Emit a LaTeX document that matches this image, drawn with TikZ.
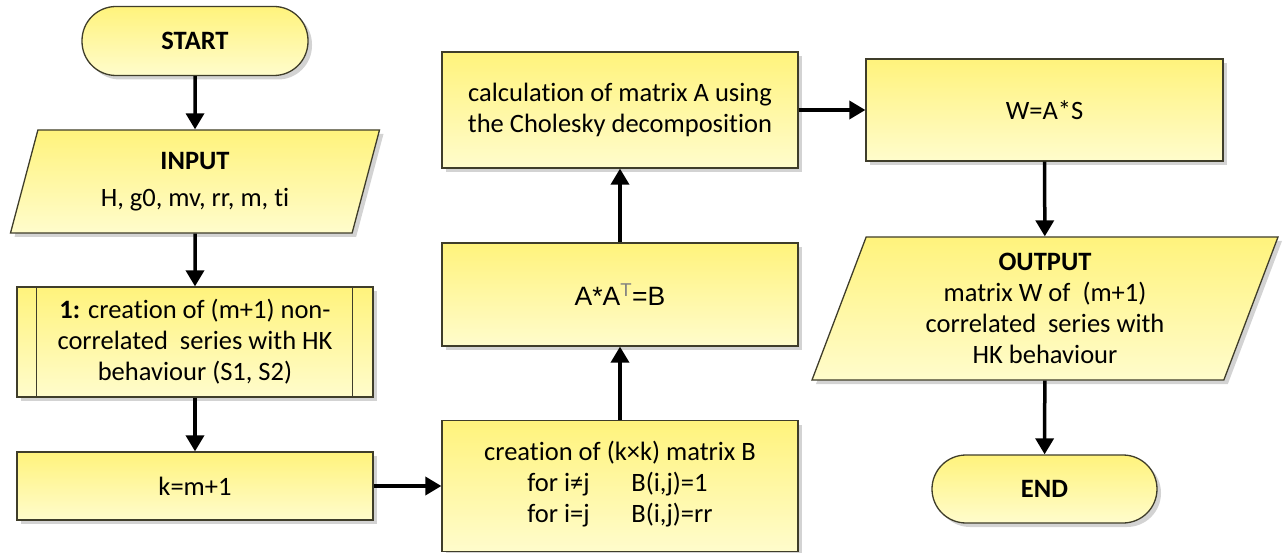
\documentclass[tikz,border=0pt]{standalone}
\usepackage{fontspec}
\setmainfont{Carlito}[Ligatures=NoCommon]
\newfontfamily\arialfam{Liberation Sans}
\usetikzlibrary{shapes.geometric,shadows,arrows.meta}
\definecolor{boxtop}{HTML}{FFF37C}
\definecolor{boxbot}{HTML}{FFFCCC}
\definecolor{boxline}{HTML}{3F3D2A}
\tikzset{
  base/.style={draw=boxline, line width=1.3pt, top color=boxtop, bottom color=boxbot,
    inner sep=0pt, align=center, font=\fontsize{26.5}{31}\selectfont,
    drop shadow={opacity=0.35, shadow xshift=4pt, shadow yshift=-4pt}},
  terminal/.style={base, rectangle, rounded corners=34pt},
  iobox/.style={base, trapezium, trapezium stretches body,
    trapezium left angle=65, trapezium right angle=115},
  flow/.style={line width=3.5pt, -{Triangle[width=18pt,length=16pt]}},
}
\begin{document}
\begin{tikzpicture}[x=1pt,y=-1pt]
\useasboundingbox (0,0) rectangle (1288,553);

% left column
\node[terminal, minimum width=226pt, minimum height=69pt] (start) at (195,41) {\textbf{START}};
\node[iobox, minimum width=369pt, minimum height=103pt] (input) at (195,181.5)
  {\textbf{INPUT}\\[6pt]H, g0, mv, rr, m, ti};
\node[base, minimum width=356pt, minimum height=110pt] (sub) at (195,342)
  {\textbf{1:} creation of (m+1) non-\\correlated~ series with HK\\behaviour (S1, S2)};
\draw[boxline, line width=1.3pt] ([xshift=20pt]sub.north west) -- ([xshift=20pt]sub.south west);
\draw[boxline, line width=1.3pt] ([xshift=-21pt]sub.north east) -- ([xshift=-21pt]sub.south east);
\node[base, minimum width=356pt, minimum height=68pt] (k) at (195,486) {k=m+1};

% middle column
\node[base, minimum width=356pt, minimum height=131pt] (bmat) at (620,486)
  {creation of (k×k) matrix B\\
   \begin{tabular}[t]{@{}p{104pt}@{}l@{}}for i≠j & B(i,j)=1\\ for i=j & B(i,j)=rr\end{tabular}};
\node[base, minimum width=356pt, minimum height=103pt] (aat) at (620,294.5)
  {\arialfam\fontsize{26.5}{30}\selectfont A*A\textsuperscript{\color{gray}T}=B};
\node[base, minimum width=356pt, minimum height=116pt] (chol) at (620,110)
  {calculation of matrix A using\\the Cholesky decomposition};

% right column
\node[base, minimum width=357pt, minimum height=102pt] (w) at (1044.5,110) {W=A*S};
\node[iobox, trapezium left angle=63.9, trapezium right angle=116.1,
  minimum width=466pt, minimum height=143pt] (out) at (1045,308.5)
  {\textbf{OUTPUT}\\matrix W of~ (m+1)\\correlated~ series with\\HK behaviour};
\node[terminal, minimum width=225pt, minimum height=68pt] (end) at (1044.5,489) {\textbf{END}};

% connectors
\draw[flow] (start) -- (input);
\draw[flow] (input) -- (sub);
\draw[flow] (sub) -- (k);
\draw[flow] (k) -- (bmat);
\draw[flow] (bmat) -- (aat);
\draw[flow] (aat) -- (chol);
\draw[flow] (chol) -- (w);
\draw[flow] (w) -- (out);
\draw[flow] (out) -- (end);
\end{tikzpicture}
\end{document}
